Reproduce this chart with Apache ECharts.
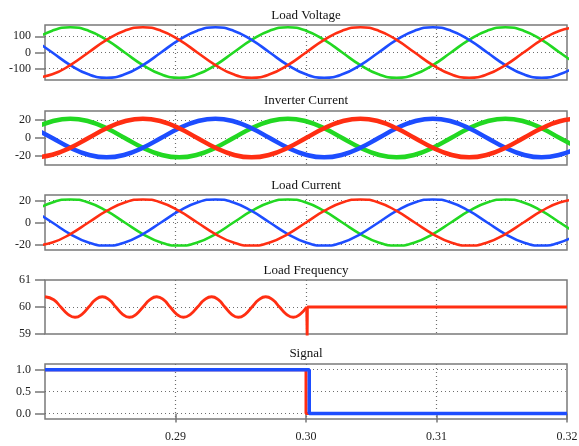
<!DOCTYPE html>
<html>
<head>
<meta charset="utf-8">
<script src="https://cdn.jsdelivr.net/npm/echarts@6/dist/echarts.min.js"></script>
<style>
html,body{margin:0;padding:0;background:#fff}
#main{width:579px;height:446px}
</style>
</head>
<body>
<div id="main"></div>
<script>
// sample times (s) for the three-phase waves
var waveTime = [0.27917,0.28056,0.28194,0.28333,0.28472,0.28611,0.28750,0.28889,0.29028,0.29167,
    0.29306,0.29444,0.29583,0.29722,0.29861,0.30000,0.30139,0.30278,0.30417,0.30556,
    0.30694,0.30833,0.30972,0.31111,0.31250,0.31389,0.31528,0.31667,0.31806,0.31944,0.32083];

// Load Voltage
var voltRed   = [-156,-135,-78,0,78,135,156,135,78,0,-78,-135,-156,-135,-78,0,78,135,156,135,78,0,-78,-135,-156,-135,-78,0,78,135,156];
var voltGreen = [78,135,156,135,78,0,-78,-135,-156,-135,-78,0,78,135,156,135,78,0,-78,-135,-156,-135,-78,0,78,135,156,135,78,0,-78];
var voltBlue  = [78,0,-78,-135,-156,-135,-78,0,78,135,156,135,78,0,-78,-135,-156,-135,-78,0,78,135,156,135,78,0,-78,-135,-156,-135,-78];

// Inverter Current
var invRed   = [-21.5,-18.6,-10.8,0,10.8,18.6,21.5,18.6,10.8,0,-10.8,-18.6,-21.5,-18.6,-10.8,0,10.8,18.6,21.5,18.6,10.8,0,-10.8,-18.6,-21.5,-18.6,-10.8,0,10.8,18.6,21.5];
var invGreen = [10.8,18.6,21.5,18.6,10.8,0,-10.8,-18.6,-21.5,-18.6,-10.8,0,10.8,18.6,21.5,18.6,10.8,0,-10.8,-18.6,-21.5,-18.6,-10.8,0,10.8,18.6,21.5,18.6,10.8,0,-10.8];
var invBlue  = [10.8,0,-10.8,-18.6,-21.5,-18.6,-10.8,0,10.8,18.6,21.5,18.6,10.8,0,-10.8,-18.6,-21.5,-18.6,-10.8,0,10.8,18.6,21.5,18.6,10.8,0,-10.8,-18.6,-21.5,-18.6,-10.8];

// Load Current
var loadRed   = [-21,-18.2,-10.5,0,10.5,18.2,21,18.2,10.5,0,-10.5,-18.2,-21,-18.2,-10.5,0,10.5,18.2,21,18.2,10.5,0,-10.5,-18.2,-21,-18.2,-10.5,0,10.5,18.2,21];
var loadGreen = [10.5,18.2,21,18.2,10.5,0,-10.5,-18.2,-21,-18.2,-10.5,0,10.5,18.2,21,18.2,10.5,0,-10.5,-18.2,-21,-18.2,-10.5,0,10.5,18.2,21,18.2,10.5,0,-10.5];
var loadBlue  = [10.5,0,-10.5,-18.2,-21,-18.2,-10.5,0,10.5,18.2,21,18.2,10.5,0,-10.5,-18.2,-21,-18.2,-10.5,0,10.5,18.2,21,18.2,10.5,0,-10.5,-18.2,-21,-18.2,-10.5];

// Load Frequency (oscillation, then the step after 0.30)
var freqTime = [0.28000,0.28067,0.28121,0.28176,0.28230,0.28283,0.28335,0.28387,0.28439,0.28491,
    0.28543,0.28595,0.28646,0.28699,0.28751,0.28804,0.28856,0.28908,0.28959,0.29010,
    0.29061,0.29115,0.29169,0.29223,0.29277,0.29328,0.29379,0.29430,0.29481,0.29534,
    0.29586,0.29639,0.29691,0.29744,0.29797,0.29850,0.29903,0.29954,0.30005];
var freqVal  = [60.38,60.27,60.00,59.73,59.62,59.73,60.00,60.27,60.38,60.27,
    60.00,59.73,59.62,59.73,60.00,60.27,60.38,60.27,60.00,59.73,
    59.62,59.73,60.00,60.27,60.38,60.27,60.00,59.73,59.62,59.73,
    60.00,60.27,60.38,60.27,60.00,59.73,59.62,59.73,60.00];
var freqStepTime = [0.30005,0.30009,0.30011,0.32000];
var freqStepVal  = [60.0,58.8,60.0,60.0];

// Signal
var sigRedTime  = [0.28,0.30,0.30,0.32];
var sigRedVal   = [1,1,0,0];
var sigBlueTime = [0.28,0.30025,0.30025,0.32];
var sigBlueVal  = [1,1,0,0];

var titles = ['Load Voltage','Inverter Current','Load Current','Load Frequency','Signal'];
var yTicks = [[-100,0,100],[-20,0,20],[-20,0,20],[59,60,61],[0,0.5,1]];
var xTicks = [0.29,0.30,0.31,0.32];

var RED = '#ff2e12', GREEN = '#22d822', BLUE = '#1d4dff';
var FONT = '"Liberation Serif","Times New Roman",serif';

function pairs(xs, ys){
    var out = [];
    for (var i = 0; i < xs.length; i++) out.push([xs[i], ys[i]]);
    return out;
}

var gridTop = [25, 111, 195, 280, 364];
var gridH   = [55, 54, 55, 54, 55];
var yRange  = [[-170,170],[-30,30],[-25,25],[59,61],[-0.125,1.13]];

var dotted = {type:[1,3], color:'#6e6e6e', width:1.2};

var grids = [], xAxes = [], yAxes = [], graphics = [];
for (var i = 0; i < 5; i++) {
    grids.push({left:45, right:12, top:gridTop[i], height:gridH[i], show:true,
        outerBoundsMode:'none', containLabel:false,
        borderColor:'#7a7a7a', borderWidth:1.5});
    xAxes.push({
        type:'value', gridIndex:i, min:0.28, max:0.32, interval:0.01,
        axisLine:{show:false},
        axisTick:{show:i===4, length:9, customValues:xTicks, lineStyle:{color:'#777', width:1.5}},
        axisLabel:{show:i===4, customValues:xTicks, margin:12, fontSize:12, fontFamily:FONT, color:'#222',
            hideOverlap:false, formatter:function(v){return v.toFixed(2);}},
        splitLine:{show:true, showMinLine:true, showMaxLine:false, lineStyle:dotted}
    });
    var edgeTicks = (i === 3);
    yAxes.push({
        type:'value', gridIndex:i, min:yRange[i][0], max:yRange[i][1],
        axisLine:{show:false},
        axisTick:{show:true, length:10, customValues:yTicks[i], lineStyle:{color:'#777', width:1.5}},
        axisLabel:{customValues:yTicks[i], margin:14, fontSize:12, fontFamily:FONT, color:'#222',
            formatter: i===4 ? function(v){return v.toFixed(1);} : function(v){return String(v);}},
        splitLine:{show:true, showMinLine:!edgeTicks, showMaxLine:!edgeTicks, lineStyle:dotted}
    });
}

var titleY = [15.5, 100.5, 186, 270.5, 354];
for (var k = 0; k < 5; k++) {
    graphics.push({type:'text', x:306, y:titleY[k], silent:true,
        style:{text:titles[k], textAlign:'center', textVerticalAlign:'middle',
            font:'13px ' + FONT, fill:'#111'}});
}

function wave(idx, data, color, width, smooth){
    return {type:'line', xAxisIndex:idx, yAxisIndex:idx, data:data, showSymbol:false,
        smooth:smooth, lineStyle:{color:color, width:width}, itemStyle:{color:color}};
}

var myChart = echarts.init(document.getElementById('main'));
var option = {
    animation:false,
    backgroundColor:'#fff',
    grid:grids,
    xAxis:xAxes,
    yAxis:yAxes,
    graphic:graphics,
    series:[
        wave(0, pairs(waveTime, voltGreen), GREEN, 2.6, true),
        wave(0, pairs(waveTime, voltBlue),  BLUE,  2.6, true),
        wave(0, pairs(waveTime, voltRed),   RED,   2.6, true),
        wave(1, pairs(waveTime, invGreen), GREEN, 4.5, true),
        wave(1, pairs(waveTime, invBlue),  BLUE,  4.5, true),
        wave(1, pairs(waveTime, invRed),   RED,   4.5, true),
        wave(2, pairs(waveTime, loadGreen), GREEN, 2.5, true),
        wave(2, pairs(waveTime, loadBlue),  BLUE,  2.5, true),
        wave(2, pairs(waveTime, loadRed),   RED,   2.5, true),
        wave(3, pairs(freqTime, freqVal), RED, 2.8, true),
        wave(3, pairs(freqStepTime, freqStepVal), RED, 2.8, false),
        wave(4, pairs(sigRedTime, sigRedVal), RED, 3, false),
        wave(4, pairs(sigBlueTime, sigBlueVal), BLUE, 3.5, false)
    ]
};
myChart.setOption(option);
</script>
</body>
</html>
